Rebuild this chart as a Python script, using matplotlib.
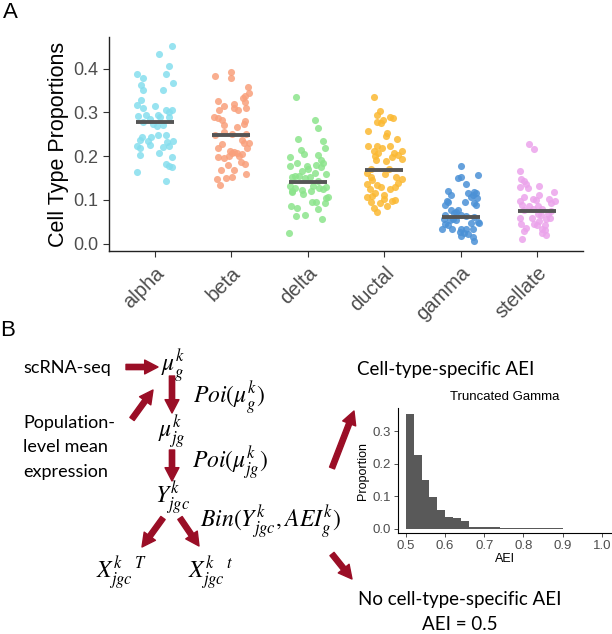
import numpy as np
import matplotlib
matplotlib.use('Agg')
import matplotlib.pyplot as plt

plt.rcParams['font.family'] = ['Liberation Sans', 'DejaVu Sans']
plt.rcParams['mathtext.fontset'] = 'stix'

W, H = 612, 634

# ---- panel A data ----
cell_types = ['alpha', 'beta', 'delta', 'ductal', 'gamma', 'stellate']
type_colors = ['#86DEEE', '#F9A07C', '#8CE48C', '#FBB932', '#4B91D6', '#EBA4EB']
type_means = [0.277, 0.247, 0.141, 0.167, 0.060, 0.075]

alpha_vals = [0.452, 0.434, 0.405, 0.387, 0.388, 0.379, 0.368, 0.363, 0.350, 0.350,
              0.327, 0.316, 0.310, 0.315, 0.306, 0.305, 0.301, 0.292, 0.293, 0.293,
              0.285, 0.290, 0.289, 0.277, 0.274, 0.268, 0.271, 0.243, 0.244, 0.249,
              0.247, 0.237, 0.234, 0.232, 0.234, 0.223, 0.219, 0.225, 0.221, 0.223,
              0.208, 0.203, 0.197, 0.182, 0.177, 0.176, 0.164, 0.143]
alpha_jit = [0.22, 0.06, 0.18, -0.23, 0.15, -0.15, 0.24, -0.18, -0.16, 0.11,
             -0.18, -0.23, -0.15, 0.0, 0.14, 0.23, 0.19, -0.22, -0.12, 0.04,
             -0.07, 0.07, 0.18, -0.16, -0.03, 0.03, 0.10, -0.17, -0.05, 0.04,
             0.14, -0.20, -0.09, 0.16, 0.24, -0.23, -0.19, -0.06, 0.10, 0.19,
             0.06, -0.20, 0.23, 0.14, 0.18, 0.23, -0.24, 0.15]

beta_vals = [0.392, 0.382, 0.378, 0.358, 0.345, 0.338, 0.332, 0.325, 0.320, 0.323,
             0.315, 0.306, 0.309, 0.306, 0.309, 0.289, 0.287, 0.283, 0.280, 0.274,
             0.270, 0.267, 0.256, 0.248, 0.250, 0.250, 0.237, 0.229, 0.229, 0.228,
             0.218, 0.218, 0.212, 0.207, 0.209, 0.207, 0.201, 0.197, 0.195, 0.204,
             0.199, 0.186, 0.181, 0.180, 0.168, 0.169, 0.159, 0.148, 0.149, 0.151,
             0.133]
beta_jit = [0.0, -0.21, 0.0, 0.22, 0.23, 0.18, 0.15, -0.17, 0.04, 0.18,
            -0.09, -0.16, 0.04, 0.09, 0.19, -0.23, -0.17, -0.12, 0.18, 0.17,
            -0.09, 0.07, -0.10, -0.22, 0.01, 0.19, 0.14, 0.16, 0.23, -0.12,
            -0.17, 0.20, -0.02, 0.01, 0.04, 0.07, -0.03, -0.17, -0.10, 0.14,
            0.10, 0.13, 0.18, -0.04, -0.14, 0.03, 0.19, -0.19, -0.07, 0.01,
            -0.15]

delta_vals = [0.335, 0.283, 0.263, 0.239, 0.235, 0.219, 0.213, 0.205, 0.203, 0.197,
              0.191, 0.185, 0.184, 0.178, 0.178, 0.175, 0.179, 0.171, 0.165, 0.161,
              0.159, 0.155, 0.155, 0.153, 0.152, 0.150, 0.144, 0.132, 0.132, 0.130,
              0.128, 0.127, 0.121, 0.124, 0.123, 0.114, 0.120, 0.117, 0.104, 0.106,
              0.094, 0.094, 0.092, 0.085, 0.081, 0.079, 0.063, 0.065, 0.056, 0.024]
delta_jit = [-0.16, 0.10, 0.13, -0.13, 0.20, 0.22, -0.09, -0.05, 0.14, -0.23,
             0.17, 0.20, -0.14, -0.01, -0.23, 0.17, 0.11, 0.0, -0.07, 0.10,
             0.24, -0.17, -0.12, 0.03, -0.20, -0.04, 0.13, -0.23, 0.07, 0.24,
             -0.17, 0.15, -0.20, 0.20, -0.07, -0.06, 0.04, -0.21, 0.24, 0.26,
             0.06, 0.11, 0.23, -0.22, -0.14, 0.14, -0.16, -0.04, 0.18, -0.24]

ductal_vals = [0.335, 0.302, 0.293, 0.290, 0.287, 0.283, 0.277, 0.275, 0.257, 0.252,
               0.246, 0.240, 0.223, 0.222, 0.219, 0.222, 0.211, 0.207, 0.208, 0.211,
               0.199, 0.197, 0.202, 0.193, 0.191, 0.188, 0.171, 0.171, 0.161, 0.152,
               0.158, 0.152, 0.147, 0.146, 0.139, 0.135, 0.133, 0.130, 0.130, 0.124,
               0.124, 0.115, 0.111, 0.107, 0.109, 0.101, 0.098, 0.100, 0.094, 0.092,
               0.081, 0.085, 0.072]
ductal_jit = [-0.13, -0.05, -0.09, 0.07, 0.12, -0.02, -0.10, -0.04, -0.21, 0.04,
              0.02, 0.17, -0.21, -0.10, -0.03, 0.08, -0.14, -0.08, 0.13, 0.23,
              -0.12, 0.10, 0.18, 0.23, -0.11, 0.02, -0.17, 0.06, -0.22, -0.17,
              0.01, 0.15, 0.23, -0.16, 0.18, -0.22, -0.09, -0.04, 0.14, -0.19,
              0.07, -0.12, 0.0, -0.22, -0.16, 0.0, 0.10, 0.14, -0.17, -0.05,
              -0.13, 0.03, -0.10]

gamma_vals = [0.178, 0.156, 0.153, 0.149, 0.136, 0.120, 0.112, 0.115, 0.118, 0.112,
              0.115, 0.107, 0.103, 0.097, 0.094, 0.095, 0.092, 0.088, 0.088, 0.077,
              0.077, 0.066, 0.069, 0.071, 0.066, 0.063, 0.060, 0.056, 0.054, 0.056,
              0.053, 0.050, 0.045, 0.042, 0.047, 0.047, 0.034, 0.034, 0.033, 0.033,
              0.034, 0.027, 0.025, 0.022, 0.018, 0.015, 0.005]
gamma_jit = [0.01, 0.23, 0.0, -0.03, 0.07, -0.17, -0.13, 0.09, 0.18, 0.16,
             0.20, 0.14, 0.22, -0.18, -0.17, 0.05, 0.17, 0.20, -0.21, -0.13,
             -0.03, -0.21, -0.09, -0.06, 0.0, 0.07, 0.18, -0.22, -0.14, -0.10,
             -0.06, 0.23, -0.21, -0.17, 0.14, 0.24, -0.24, -0.12, 0.01, 0.07,
             0.16, -0.01, 0.04, 0.09, 0.0, 0.16, 0.18]

stellate_vals = [0.228, 0.217, 0.165, 0.147, 0.143, 0.135, 0.130, 0.132, 0.126, 0.117,
                 0.107, 0.111, 0.101, 0.100, 0.101, 0.097, 0.097, 0.089, 0.092, 0.086,
                 0.085, 0.080, 0.080, 0.075, 0.077, 0.068, 0.068, 0.065, 0.059, 0.059,
                 0.056, 0.059, 0.051, 0.045, 0.045, 0.042, 0.042, 0.036, 0.034, 0.028,
                 0.030, 0.024, 0.011, 0.019]
stellate_jit = [-0.10, -0.04, -0.23, -0.21, -0.17, -0.14, -0.23, 0.02, -0.12, 0.22,
                -0.17, 0.03, -0.05, -0.01, 0.16, 0.24, -0.23, -0.20, 0.18, -0.10,
                0.01, -0.05, 0.07, 0.18, -0.17, 0.14, 0.01, 0.05, -0.23, -0.07,
                0.12, 0.17, 0.03, -0.21, -0.04, 0.0, 0.10, -0.14, 0.06, -0.17,
                0.10, 0.06, -0.20, 0.12]

# ---- inset histogram data ----
aei_bin_left = [0.50, 0.52, 0.54, 0.56, 0.58, 0.60, 0.62, 0.64, 0.66, 0.68,
                0.70, 0.72, 0.74, 0.76, 0.78, 0.80, 0.82, 0.84, 0.86, 0.88]
aei_prop = [0.354, 0.228, 0.150, 0.099, 0.058, 0.037, 0.032, 0.024, 0.004, 0.004,
            0.004, 0.004, 0.003, 0.003, 0.002, 0.001, 0.001, 0.001, 0.001, 0.001]

RED = '#9A0E26'

fig = plt.figure(figsize=(W / 100, H / 100), dpi=100)

# ---- panel A ----
ax = fig.add_axes([109 / W, 1 - 251 / H, (583 - 109) / W, (251 - 37) / H])
groups = [(alpha_vals, alpha_jit), (beta_vals, beta_jit), (delta_vals, delta_jit),
          (ductal_vals, ductal_jit), (gamma_vals, gamma_jit), (stellate_vals, stellate_jit)]
for i, (vals, jit) in enumerate(groups):
    xs = i + 1 + np.array(jit)
    ax.scatter(xs, vals, s=26, color=type_colors[i], alpha=0.85, linewidths=0, zorder=2)
    ax.hlines(type_means[i], i + 1 - 0.25, i + 1 + 0.25, color='#555555', lw=2.8, zorder=3)

ax.set_xlim(0.4, 6.6)
ax.set_ylim(-0.017, 0.472)
ax.set_xticks(range(1, 7))
ax.set_xticklabels(cell_types, rotation=45, ha='right', rotation_mode='anchor',
                   fontsize=14.5, color='#4D4D4D')
ax.set_yticks([0.0, 0.1, 0.2, 0.3, 0.4])
ax.set_yticklabels(['0.0', '0.1', '0.2', '0.3', '0.4'], fontsize=13, color='#4D4D4D')
ax.set_ylabel('Cell Type Proportions', fontsize=15.5, labelpad=3)
for s in ['top', 'right']:
    ax.spines[s].set_visible(False)
for s in ['left', 'bottom']:
    ax.spines[s].set_color('#222222')
    ax.spines[s].set_linewidth(1.0)
ax.tick_params(length=4, color='#333333', width=0.8)
ax.tick_params(axis='x', pad=5)

# ---- panel B (drawn on a pixel-space overlay) ----
ov = fig.add_axes([0, 0, 1, 1], zorder=-1)
ov.set_xlim(0, W)
ov.set_ylim(H, 0)
ov.axis('off')

ov.text(3, 12, 'A', fontsize=16, ha='left', va='center')
ov.text(0, 331, 'B', fontsize=16, ha='left', va='center')

txt_font = ['Lato', 'DejaVu Sans']
ov.text(23, 368, 'scRNA-seq', fontsize=13, family=txt_font, ha='left', va='center')
for yy, line in zip([423, 447, 472], ['Population-', 'level mean', 'expression']):
    ov.text(23, yy, line, fontsize=13, family=txt_font, ha='left', va='center')
ov.text(357, 369, 'Cell-type-specific AEI', fontsize=13.5, family=txt_font, ha='left', va='center')
ov.text(460, 600, 'No cell-type-specific AEI', fontsize=13.5, family=txt_font, ha='center', va='center')
ov.text(460, 624, 'AEI = 0.5', fontsize=13.5, family=txt_font, ha='center', va='center')

msz = 17
ov.text(173, 366, r'$\mu_g^k$', fontsize=msz, ha='center', va='center')
ov.text(193, 398, r'$Poi(\mu_g^k)$', fontsize=msz, ha='left', va='center')
ov.text(172, 432, r'$\mu_{jg}^k$', fontsize=msz, ha='center', va='center')
ov.text(192, 463, r'$Poi(\mu_{jg}^k)$', fontsize=msz, ha='left', va='center')
ov.text(173, 498, r'$Y_{jgc}^k$', fontsize=msz, ha='center', va='center')
ov.text(200, 522, r'$Bin(Y_{jgc}^k, AEI_g^k)$', fontsize=msz, ha='left', va='center')
ov.text(122, 573, r'${X_{jgc}^k}^{\,T}$', fontsize=msz, ha='center', va='center')
ov.text(211, 573, r'${X_{jgc}^k}^{\,t}$', fontsize=msz, ha='center', va='center')


def red_arrow(x0, y0, x1, y1):
    ov.annotate('', xy=(x1, y1), xytext=(x0, y0),
                arrowprops=dict(arrowstyle='simple,head_length=0.48,head_width=0.5,tail_width=0.19',
                                color=RED, shrinkA=0, shrinkB=0, mutation_scale=20))


red_arrow(126, 367, 158, 367)
red_arrow(172, 376, 172, 413)
red_arrow(132, 419, 153, 390)
red_arrow(172, 450, 172, 481)
red_arrow(163, 518, 142, 547)
red_arrow(180, 518, 199, 546)
red_arrow(332, 468, 354, 411)
red_arrow(332, 554, 352, 579)

# ---- inset histogram ----
ins = fig.add_axes([397.7 / W, 1 - 533 / H, (612 - 397.7) / W, (533 - 408) / H])
ins.bar(aei_bin_left, aei_prop, width=0.02, align='edge', color='#595959', linewidth=0)
ins.set_xlim(0.479, 1.026)
ins.set_ylim(-0.013, 0.371)
ins.set_xticks([0.5, 0.6, 0.7, 0.8, 0.9, 1.0])
ins.set_xticklabels(['0.5', '0.6', '0.7', '0.8', '0.9', '1.0'], fontsize=9.5, color='#4D4D4D')
ins.set_yticks([0.0, 0.1, 0.2, 0.3])
ins.set_yticklabels(['0.0', '0.1', '0.2', '0.3'], fontsize=9.5, color='#4D4D4D')
ins.set_xlabel('AEI', fontsize=9, labelpad=1)
ins.set_ylabel('Proportion', fontsize=9, labelpad=2)
ins.set_title('Truncated Gamma', fontsize=9.5, pad=6)
for s in ['top', 'right']:
    ins.spines[s].set_visible(False)
for s in ['left', 'bottom']:
    ins.spines[s].set_linewidth(0.8)
ins.tick_params(length=3, width=0.6, color='#333333', pad=2)

fig.savefig('out.png', dpi=100)
